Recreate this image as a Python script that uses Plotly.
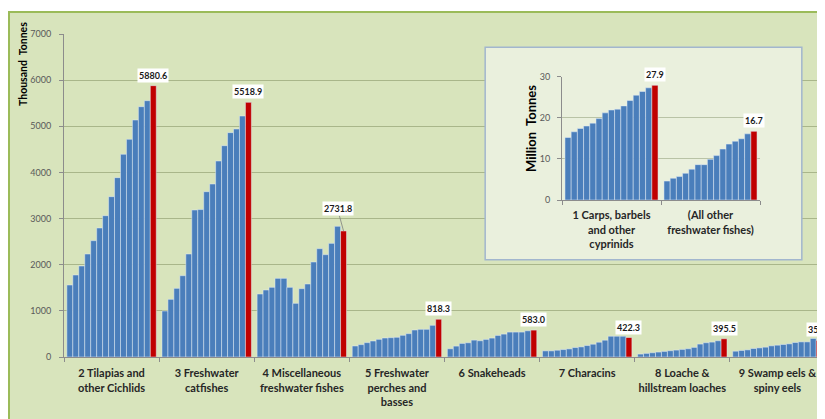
import plotly.graph_objects as go

# ---------------- data ----------------
main_categories = [
    "2 Tilapias and<br>other Cichlids",
    "3 Freshwater<br>catfishes",
    "4 Miscellaneous<br>freshwater fishes",
    "5 Freshwater<br>perches and<br>basses",
    "6 Snakeheads",
    "7 Characins",
    "8 Loache &<br>hillstream loaches",
    "9 Swamp eels &<br>spiny eels",
]
tilapias = [1560, 1777, 1972, 2232, 2521, 2796, 3063, 3475, 3887, 4393, 4718, 5136, 5425, 5555, 5880.6]
catfishes = [997, 1250, 1488, 1762, 2232, 3186, 3195, 3583, 3749, 4248, 4580, 4862, 4941, 5223, 5518.9]
misc_freshwater = [1365, 1452, 1510, 1705, 1705, 1510, 1163, 1481, 1582, 2059, 2348, 2218, 2463, 2832, 2731.8]
perches = [239, 268, 311, 347, 383, 412, 419, 427, 470, 506, 585, 600, 600, 687, 818.3]
snakeheads = [178, 236, 294, 308, 366, 352, 381, 410, 467, 496, 540, 540, 540, 568, 583.0]
characins = [133, 133, 147, 161, 176, 205, 219, 248, 277, 320, 364, 450, 450, 450, 422.3]
loaches = [63, 78, 92, 107, 121, 136, 150, 164, 179, 208, 280, 309, 323, 352, 395.5]
swamp_eels = [126, 141, 155, 184, 198, 213, 242, 256, 271, 285, 314, 328, 328, 401, 358.8]
main_series = [tilapias, catfishes, misc_freshwater, perches, snakeheads, characins, loaches, swamp_eels]

inset_categories = [
    "1 Carps, barbels<br>and other<br>cyprinids",
    "(All other<br>freshwater fishes)",
]
carps = [15.2, 16.6, 17.4, 18.0, 18.7, 19.8, 21.2, 21.9, 22.1, 22.9, 24.2, 25.5, 26.4, 27.3, 27.9]
all_other = [4.6, 5.3, 5.7, 6.5, 7.5, 8.6, 8.6, 9.9, 10.8, 12.4, 13.6, 14.3, 14.9, 16.1, 16.7]
inset_series = [carps, all_other]

main_ticks = [0, 1000, 2000, 3000, 4000, 5000, 6000, 7000]
inset_ticks = [0, 10, 20, 30]

# ---------------- layout geometry (browser-window pixels) ----------------
OFF = 8                      # default body margin of the html page
WIN_W, WIN_H = 825, 419
W, H = WIN_W - OFF, WIN_H - OFF
L, R, T, B = 64, 825, 34, 357  # main plot area in window pixels

BLUE = "#4A7EBB"
RED = "#C00000"
BG = "#D8E4BC"
INSET_BG = "#EAF0DD"
GRID = "#A9B68A"
AXIS = "#8C8C8C"
BARGAP = 0.06
N = len(tilapias)


def px(xp):
    return (xp - L) / (R - L)


def py(yp):
    return (B - yp) / (B - T)


fig = go.Figure()

# dummy trace registering the inset-box subplot (x2/y2)
fig.add_trace(go.Scatter(x=[], y=[], xaxis="x2", yaxis="y2", showlegend=False, hoverinfo="skip"))

for j in range(N):
    color = RED if j == N - 1 else BLUE
    fig.add_trace(go.Bar(
        x=main_categories, y=[s[j] for s in main_series],
        marker=dict(color=color, line=dict(color="rgba(225,235,248,0.85)", width=0.6)),
        xaxis="x", yaxis="y", showlegend=False, hoverinfo="y",
    ))
    fig.add_trace(go.Bar(
        x=inset_categories, y=[s[j] for s in inset_series],
        marker=dict(color=color, line=dict(color="rgba(225,235,248,0.85)", width=0.6)),
        xaxis="x3", yaxis="y3", showlegend=False, hoverinfo="y",
    ))

# pixel offset of the last (red) bar from its category centre
main_cat_px = (R - L) / len(main_categories)
main_off = (N - 1) / 2 * main_cat_px * (1 - BARGAP) / N
ix0, ix1 = 562, 760
inset_cat_px = (ix1 - ix0) / len(inset_categories)
inset_off = (N - 1) / 2 * inset_cat_px * (1 - BARGAP) / N

label_font = dict(family="Lato", size=9, color="#1a1a1a")
annotations = []
for cat, s in zip(main_categories, main_series):
    v = s[-1]
    if s is misc_freshwater:
        annotations.append(dict(
            x=cat, y=v, xref="x", yref="y", text=f"<b>{v:.1f}</b>",
            showarrow=True, arrowhead=0, arrowwidth=0.8, arrowcolor="#7F7F7F",
            ax=-6, ay=-22, xshift=main_off, bgcolor="white", font=label_font, borderpad=1,
        ))
    else:
        annotations.append(dict(
            x=cat, y=v, xref="x", yref="y", text=f"<b>{v:.1f}</b>",
            showarrow=False, xshift=main_off, yshift=3, yanchor="bottom",
            bgcolor="white", font=label_font, borderpad=1,
        ))
for cat, s in zip(inset_categories, inset_series):
    v = s[-1]
    annotations.append(dict(
        x=cat, y=v, xref="x3", yref="y3", text=f"<b>{v:.1f}</b>",
        showarrow=False, xshift=inset_off, yshift=3, yanchor="bottom",
        bgcolor="white", font=label_font, borderpad=1,
    ))

annotations.append(dict(
    x=px(23), y=py(64), xref="paper", yref="paper", text="<b>Thousand\u00a0 Tonnes</b>",
    textangle=-90, showarrow=False, xanchor="center", yanchor="middle",
    font=dict(family="Lato", size=10.5, color="#000000"),
))
annotations.append(dict(
    x=px(531), y=py(129), xref="paper", yref="paper", text="<b>Million\u00a0 Tonnes</b>",
    textangle=-90, showarrow=False, xanchor="center", yanchor="middle",
    font=dict(family="Lato", size=13, color="#000000"),
))

shapes = [
    # outer chart area
    dict(type="rect", xref="paper", yref="paper", x0=px(9), x1=px(840), y0=py(440), y1=py(12),
         fillcolor=BG, line=dict(color="#9BBB59", width=2), layer="below"),
    # inset box (on its own subplot so it covers main gridlines)
    dict(type="rect", xref="x2", yref="y2", x0=0, x1=1, y0=0, y1=1,
         fillcolor=INSET_BG, line=dict(color="#A2B6CE", width=1.5), layer="below"),
]

bx0, bx1, by0, by1 = 482, 805, 45, 262

fig.update_layout(
    width=W, height=H, autosize=False,
    margin=dict(l=L - OFF, r=WIN_W - R, t=T - OFF, b=WIN_H - B, pad=0),
    paper_bgcolor="white", plot_bgcolor="rgba(0,0,0,0)",
    barmode="group", bargap=BARGAP, bargroupgap=0,
    showlegend=False,
    font=dict(family="Lato"),
    xaxis=dict(
        domain=[0, 1], anchor="y", type="category", range=[-0.5, len(main_categories) - 0.5],
        tickson="boundaries", ticks="outside", ticklen=4, tickcolor=AXIS, tickangle=0,
        ticklabelstandoff=6,
        showline=True, linecolor=AXIS, linewidth=1, showgrid=False,
        tickfont=dict(family="Lato", size=11, color="#262626", weight="bold"),
        fixedrange=True,
    ),
    yaxis=dict(
        domain=[0, 1], anchor="x", range=[0, 7000], tickvals=main_ticks,
        showgrid=True, gridcolor=GRID, gridwidth=1, zeroline=False,
        showline=True, linecolor=AXIS, linewidth=1,
        ticks="outside", ticklen=4, tickcolor=AXIS, ticklabelstandoff=6,
        tickfont=dict(family="Lato", size=9, color="#595959"), fixedrange=True,
    ),
    xaxis2=dict(domain=[px(bx0), px(bx1)], anchor="y2", range=[-0.01, 1.01], visible=False, fixedrange=True),
    yaxis2=dict(domain=[py(by1), py(by0)], anchor="x2", range=[-0.01, 1.01], visible=False, fixedrange=True),
    xaxis3=dict(
        domain=[px(ix0), px(ix1)], anchor="y3", type="category", range=[-0.5, len(inset_categories) - 0.5],
        tickson="boundaries", ticks="outside", ticklen=4, tickcolor=AXIS, tickangle=0,
        ticklabelstandoff=5,
        showline=True, linecolor=AXIS, linewidth=1, showgrid=False,
        tickfont=dict(family="Lato", size=11, color="#262626", weight="bold"),
        fixedrange=True,
    ),
    yaxis3=dict(
        domain=[py(200), py(76.7)], anchor="x3", range=[0, 30], tickvals=inset_ticks,
        showgrid=True, gridcolor="#B9C3A6", gridwidth=1, zeroline=False,
        showline=True, linecolor=AXIS, linewidth=1,
        ticks="outside", ticklen=4, tickcolor=AXIS, ticklabelstandoff=5,
        tickfont=dict(family="Lato", size=9, color="#595959"), fixedrange=True,
    ),
    annotations=annotations,
    shapes=shapes,
)

fig.write_html("out.html")
